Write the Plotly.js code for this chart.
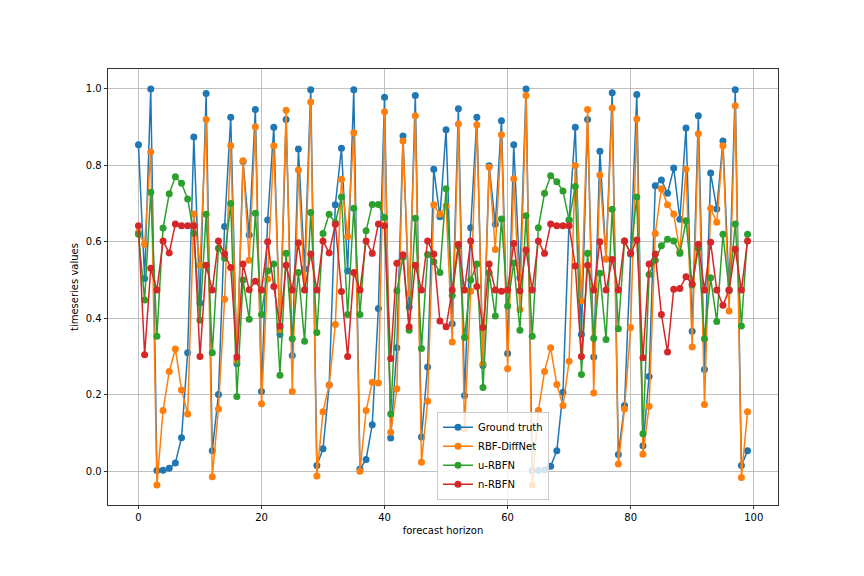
<!DOCTYPE html>
<html>
<head>
<meta charset="utf-8">
<script src="https://cdn.plot.ly/plotly-3.0.1.min.js"></script>
<style>html,body{margin:0;padding:0;background:#fff;}#chart{width:864px;height:576px;}</style>
</head>
<body>
<div id="chart"></div>
<script>
var seriesNames = ["Ground truth", "RBF-DiffNet", "u-RBFN", "n-RBFN"];
var seriesColors = ["#1f77b4", "#ff7f0e", "#2ca02c", "#d62728"];

var groundTruth = [0.854,0.504,1.0,0.002,0.003,0.008,0.022,0.088,0.31,0.874,
0.44,0.988,0.054,0.201,0.64,0.926,0.281,0.81,0.618,0.946,
0.209,0.657,0.90,0.358,0.92,0.303,0.843,0.53,0.998,0.015,
0.059,0.226,0.697,0.845,0.524,0.998,0.006,0.031,0.122,0.426,
0.978,0.087,0.323,0.877,0.43,0.983,0.09,0.273,0.79,0.666,
0.893,0.386,0.948,0.198,0.637,0.926,0.277,0.799,0.646,0.917,
0.308,0.854,0.506,1.0,0.002,0.002,0.004,0.013,0.054,0.207,
0.657,0.90,0.358,0.92,0.299,0.837,0.555,0.99,0.044,0.172,
0.568,0.985,0.067,0.248,0.747,0.762,0.727,0.793,0.659,0.898,
0.366,0.93,0.266,0.78,0.686,0.864,0.472,0.998,0.015,0.054];

var rbfDiffNet = [0.625,0.594,0.835,-0.036,0.159,0.261,0.32,0.213,0.150,0.673,
0.539,0.92,-0.014,0.163,0.45,0.851,0.29,0.812,0.552,0.901,
0.177,0.503,0.851,0.37,0.944,0.209,0.788,0.475,0.966,-0.012,
0.156,0.226,0.384,0.764,0.614,0.885,0.0,0.159,0.233,0.231,
0.94,0.102,0.216,0.864,0.465,0.93,0.024,0.183,0.697,0.672,
0.694,0.338,0.908,0.111,0.471,0.906,0.281,0.795,0.58,0.88,
0.268,0.765,0.423,0.983,-0.036,0.159,0.261,0.323,0.227,0.172,
0.288,0.80,0.446,0.946,0.205,0.775,0.555,0.95,0.019,0.163,
0.376,0.921,0.045,0.17,0.622,0.739,0.697,0.673,0.574,0.79,
0.325,0.883,0.175,0.688,0.651,0.851,0.419,0.956,-0.016,0.156];

var uRBFN = [0.62,0.448,0.73,0.353,0.636,0.726,0.77,0.753,0.712,0.622,
0.395,0.672,0.31,0.583,0.557,0.70,0.196,0.50,0.398,0.675,
0.41,0.524,0.542,0.251,0.57,0.347,0.52,0.34,0.677,0.363,
0.622,0.672,0.65,0.717,0.41,0.688,0.41,0.629,0.698,0.698,
0.664,0.150,0.472,0.56,0.369,0.662,0.321,0.567,0.548,0.52,
0.739,0.46,0.589,0.35,0.5,0.542,0.219,0.519,0.406,0.66,
0.432,0.545,0.369,0.668,0.353,0.637,0.727,0.773,0.757,0.733,
0.657,0.745,0.253,0.57,0.348,0.518,0.345,0.685,0.373,0.602,
0.57,0.717,0.098,0.515,0.552,0.59,0.607,0.602,0.57,0.655,
0.487,0.583,0.347,0.506,0.392,0.62,0.474,0.647,0.380,0.62];

var nRBFN = [0.642,0.305,0.531,0.474,0.602,0.571,0.647,0.642,0.642,0.642,
0.30,0.539,0.474,0.602,0.568,0.533,0.299,0.542,0.475,0.497,
0.474,0.60,0.483,0.38,0.539,0.474,0.598,0.474,0.568,0.474,
0.602,0.571,0.646,0.47,0.30,0.52,0.474,0.602,0.57,0.647,
0.642,0.295,0.544,0.566,0.378,0.539,0.474,0.602,0.568,0.393,
0.378,0.474,0.594,0.474,0.602,0.483,0.376,0.542,0.474,0.471,
0.474,0.596,0.472,0.579,0.474,0.602,0.57,0.647,0.642,0.642,
0.642,0.537,0.30,0.539,0.474,0.60,0.474,0.554,0.474,0.602,
0.57,0.605,0.297,0.542,0.568,0.41,0.312,0.476,0.478,0.509,
0.49,0.594,0.474,0.599,0.474,0.434,0.474,0.581,0.474,0.602];

var xTickVals = [0, 20, 40, 60, 80, 100];
var yTickVals = [0.0, 0.2, 0.4, 0.6, 0.8, 1.0];

var allSeries = [groundTruth, rbfDiffNet, uRBFN, nRBFN];
var traces = allSeries.map(function (vals, k) {
  return {
    x: vals.map(function (_, i) { return i; }),
    y: vals,
    type: 'scatter',
    mode: 'lines+markers',
    name: seriesNames[k],
    line: {color: seriesColors[k], width: 1.5},
    marker: {color: seriesColors[k], size: 7}
  };
});

var axisCommon = {
  showline: true, mirror: true, linecolor: '#000', linewidth: 0.8,
  ticks: 'outside', ticklen: 3.5, tickwidth: 0.8, tickcolor: '#000',
  showgrid: true, gridcolor: '#b0b0b0', gridwidth: 0.8,
  zeroline: false,
  tickfont: {family: 'DejaVu Sans', size: 10, color: '#000'}
};

var layout = {
  width: 864, height: 576,
  margin: {l: 108, r: 86, t: 69, b: 71},
  paper_bgcolor: '#fff', plot_bgcolor: '#fff',
  font: {family: 'DejaVu Sans', size: 10, color: '#000'},
  showlegend: true,
  legend: {
    x: 0.491, y: 0.012, xanchor: 'left', yanchor: 'bottom',
    bgcolor: 'rgba(255,255,255,0.8)', bordercolor: '#cccccc', borderwidth: 1,
    font: {family: 'DejaVu Sans', size: 10, color: '#000'},
    tracegroupgap: 0, itemwidth: 30
  },
  xaxis: Object.assign({}, axisCommon, {
    range: [-4.95, 103.95], tickvals: xTickVals,
    title: {text: 'forecast horizon', font: {family: 'DejaVu Sans', size: 10, color: '#000'}, standoff: 4}
  }),
  yaxis: Object.assign({}, axisCommon, {
    range: [-0.088, 1.052], tickvals: yTickVals, tickformat: '.1f',
    title: {text: 'timeseries values', font: {family: 'DejaVu Sans', size: 10, color: '#000'}, standoff: 5}
  })
};

Plotly.newPlot('chart', traces, layout, {displayModeBar: false, staticPlot: true});
</script>
</body>
</html>
